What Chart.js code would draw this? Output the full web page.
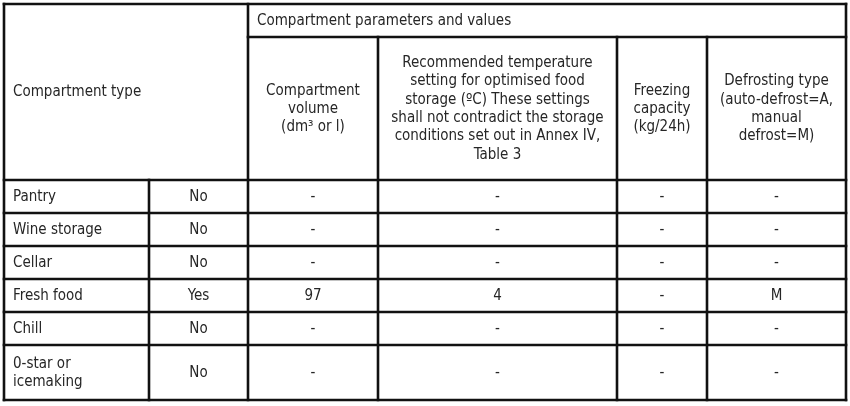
<!DOCTYPE html>
<html><head><meta charset="utf-8">
<script src="https://cdn.jsdelivr.net/npm/chart.js@4"></script>
<style>html,body{margin:0;padding:0;background:#fff;}canvas{display:block;}</style>
</head><body>
<canvas id="c" width="850" height="406"></canvas>
<script>
// Data
const categories = ["Pantry","Wine storage","Cellar","Fresh food","Chill","0-star or\nicemaking"];
const present = ["No","No","No","Yes","No","No"];
const volume = ["-","-","-","97","-","-"];
const temperature = ["-","-","-","4","-","-"];
const freezing = ["-","-","-","-","-","-"];
const defrost = ["-","-","-","M","-","-"];
const groupTitle = "Compartment parameters and values";
const typeTitle = "Compartment type";
const columnTitles = [
  "Compartment\nvolume\n(dm³ or l)",
  "Recommended temperature\nsetting for optimised food\nstorage (ºC) These settings\nshall not contradict the storage\nconditions set out in Annex IV,\nTable 3",
  "Freezing\ncapacity\n(kg/24h)",
  "Defrosting type\n(auto-defrost=A,\nmanual\ndefrost=M)"
];
// Layout (table grid in scale units)
const colEdges = [4,149,248,378,617,707,846];
const rowEdges = [180,213,246,279,312,345,400];
const topEdge = 4, groupBottom = 37;

const FONT = '15px "DejaVu Sans Condensed", "DejaVu Sans", sans-serif';
const LH = 18.3;

const tablePlugin = {
  id:'table',
  afterDraw(chart){
    const ctx = chart.ctx, xs = chart.scales.x, ys = chart.scales.y;
    const X = v=>xs.getPixelForValue(v), Y = v=>ys.getPixelForValue(v);
    ctx.save();
    ctx.strokeStyle = '#111'; ctx.lineWidth = 2.6; ctx.lineCap='square';
    const line=(x1,y1,x2,y2)=>{ctx.beginPath();ctx.moveTo(X(x1),Y(y1));ctx.lineTo(X(x2),Y(y2));ctx.stroke();};
    const L = colEdges[0], R = colEdges[colEdges.length-1];
    line(L,topEdge,R,topEdge);
    line(colEdges[2],groupBottom,R,groupBottom);
    rowEdges.forEach(y=>line(L,y,R,y));
    line(L,topEdge,L,rowEdges[rowEdges.length-1]);
    line(R,topEdge,R,rowEdges[rowEdges.length-1]);
    line(colEdges[1],rowEdges[0],colEdges[1],rowEdges[rowEdges.length-1]);
    line(colEdges[2],topEdge,colEdges[2],rowEdges[rowEdges.length-1]);
    for(let i=3;i<colEdges.length-1;i++) line(colEdges[i],groupBottom,colEdges[i],rowEdges[rowEdges.length-1]);

    ctx.font = FONT; ctx.fillStyle = '#262626'; ctx.textBaseline='middle';
    const text=(s,x0,x1,y0,y1,align)=>{
      const lines = s.split('\n');
      const cy = (Y(y0)+Y(y1))/2;
      ctx.textAlign = align;
      const x = align==='left' ? X(x0)+9 : (X(x0)+X(x1))/2;
      lines.forEach((t,k)=>ctx.fillText(t,x,cy+(k-(lines.length-1)/2)*LH+0.5));
    };
    text(typeTitle,colEdges[0],colEdges[2],topEdge,rowEdges[0],'left');
    text(groupTitle,colEdges[2],R,topEdge,groupBottom,'left');
    columnTitles.forEach((t,i)=>text(t,colEdges[i+2],colEdges[i+3],groupBottom,rowEdges[0],'center'));
    const cols=[present,volume,temperature,freezing,defrost];
    categories.forEach((c,r)=>{
      const y0=rowEdges[r], y1=rowEdges[r+1];
      text(c,colEdges[0],colEdges[1],y0,y1,'left');
      cols.forEach((arr,j)=>text(arr[r],colEdges[j+1],colEdges[j+2],y0,y1,'center'));
    });
    ctx.restore();
  }
};

new Chart(document.getElementById('c'),{
  type:'scatter',
  data:{datasets:[{data:[],pointRadius:0}]},
  options:{
    responsive:false, animation:false, devicePixelRatio:1,
    layout:{padding:0},
    plugins:{legend:{display:false},tooltip:{enabled:false}},
    scales:{
      x:{type:'linear',min:0,max:850,display:false},
      y:{type:'linear',min:0,max:406,reverse:true,display:false}
    }
  },
  plugins:[tablePlugin]
});
</script>
</body></html>
